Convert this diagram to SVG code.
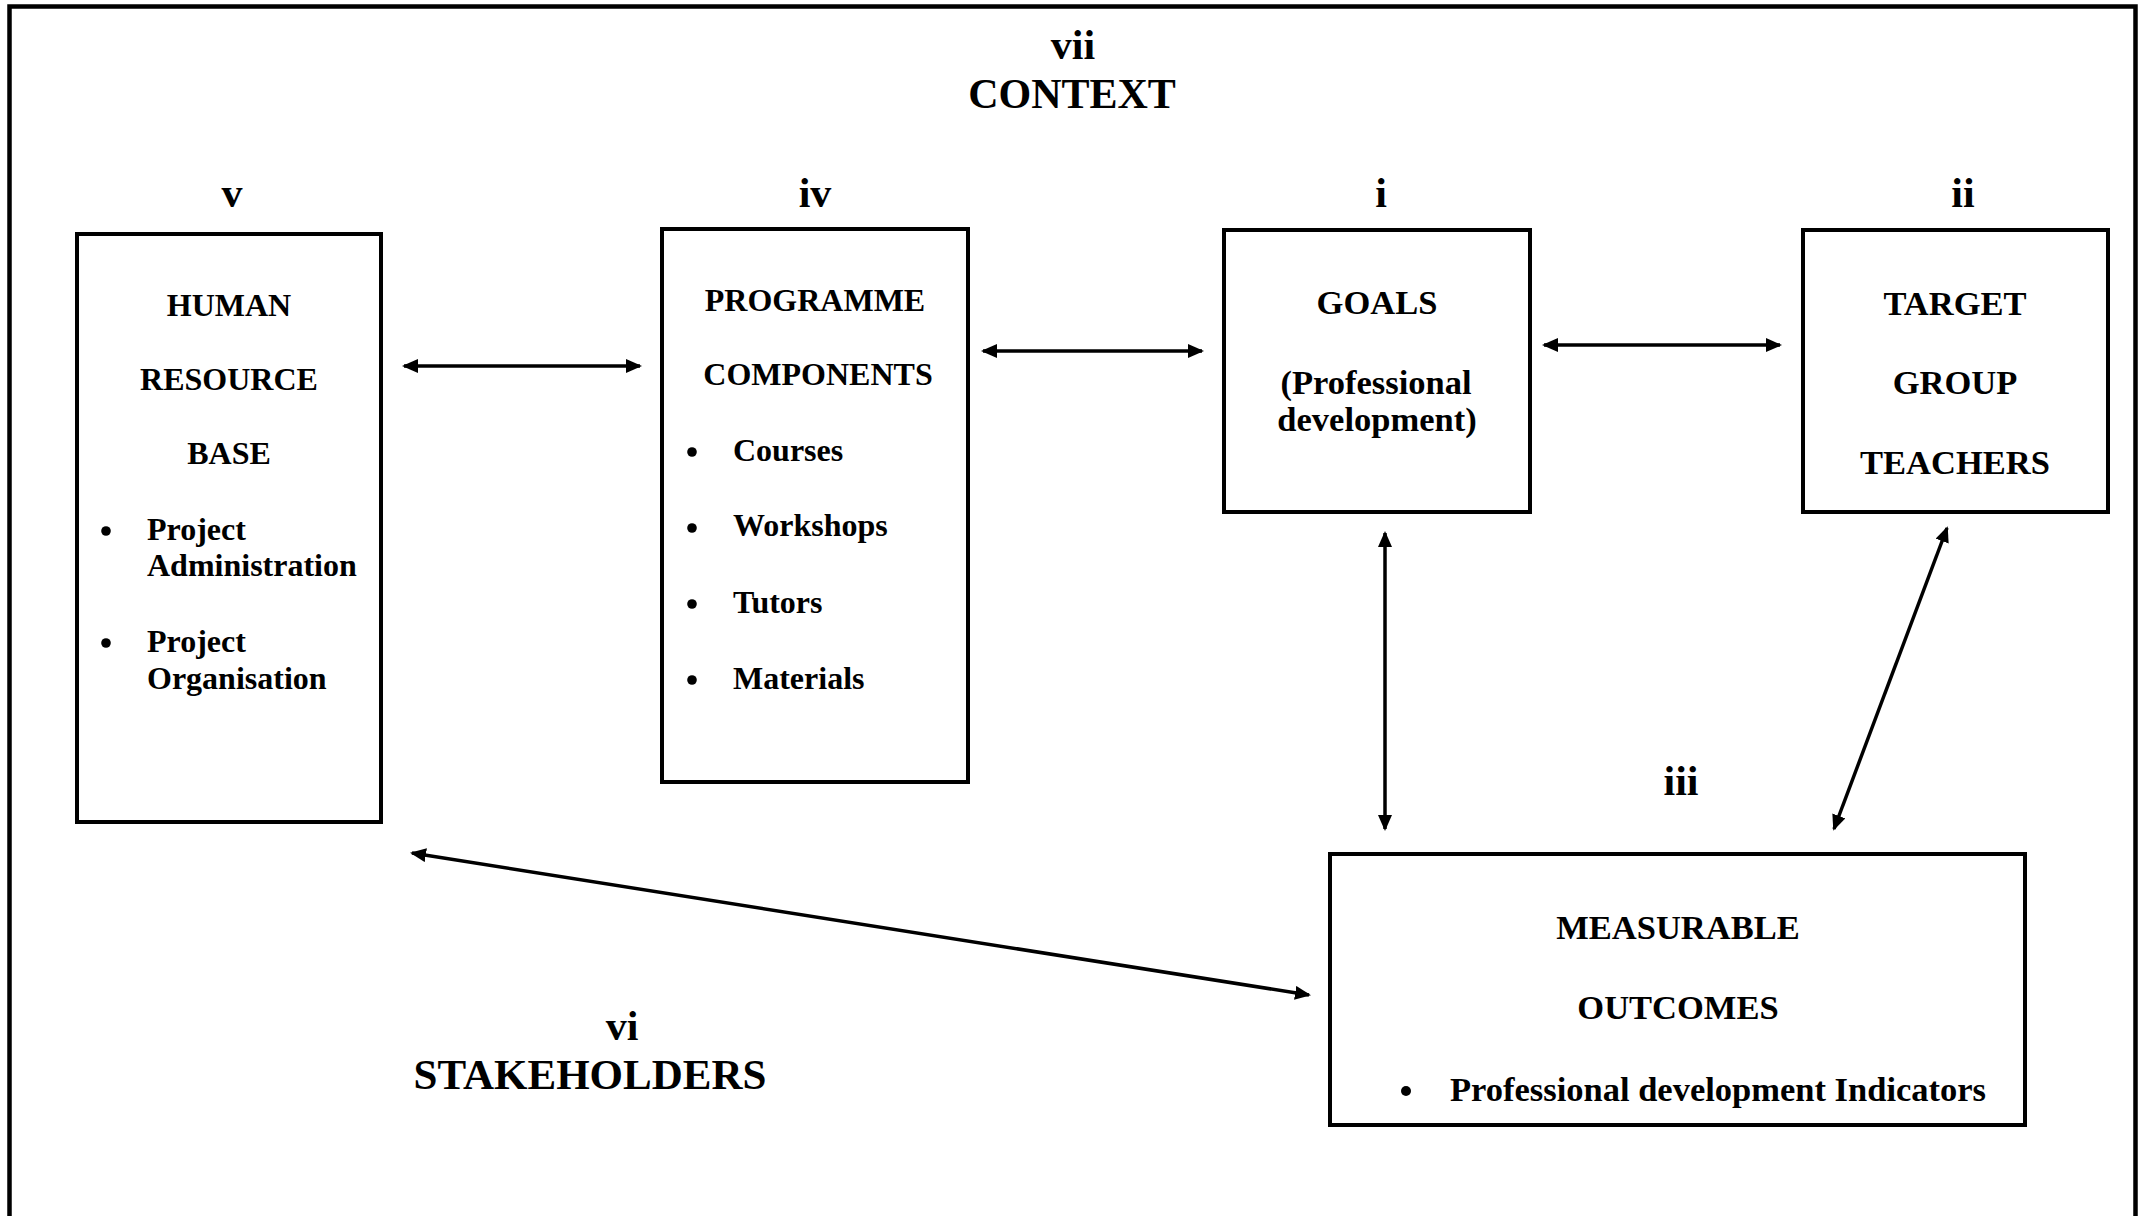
<svg xmlns="http://www.w3.org/2000/svg" width="2150" height="1216" viewBox="0 0 2150 1216">
<defs>
<style>
text{font-family:"Liberation Serif","Times New Roman",serif;font-weight:bold;fill:#000}
.lbl{font-size:42px;text-anchor:middle}
.big{font-size:43px;text-anchor:middle}
.t32{font-size:32px}
.t34{font-size:34.5px}
.c{text-anchor:middle}
.box{fill:#fff;stroke:#000;stroke-width:4}
.dot{fill:#000}
.con{fill:none;stroke:#000;stroke-width:3.5;marker-start:url(#ah);marker-end:url(#ah)}
</style>
<marker id="ah" viewBox="0 0 16 14" refX="14" refY="7" markerWidth="16" markerHeight="14" markerUnits="userSpaceOnUse" orient="auto-start-reverse">
<path d="M0,0 L16,7 L0,14 z" fill="#000"/>
</marker>
</defs>
<rect width="2150" height="1216" fill="#fff"/>
<path d="M9.5,1216 V6.5 H2135.5 V1216" fill="none" stroke="#000" stroke-width="4.5"/>

<g id="context">
<text class="lbl" x="1073" y="59">vii</text>
<text class="lbl" x="1072" y="108">CONTEXT</text>
</g>
<g id="stakeholders">
<text class="lbl" x="622" y="1040">vi</text>
<text class="big" x="590" y="1089">STAKEHOLDERS</text>
</g>

<g id="node-v">
<text class="lbl" x="232" y="207">v</text>
<rect class="box" x="77" y="234" width="304" height="588"/>
<text class="t32 c" x="229" y="316">HUMAN</text>
<text class="t32 c" x="229" y="390">RESOURCE</text>
<text class="t32 c" x="229" y="464">BASE</text>
<circle class="dot" cx="106" cy="531" r="4.8"/>
<text class="t32" x="147" y="540">Project</text>
<text class="t32" x="147" y="576">Administration</text>
<circle class="dot" cx="106" cy="643" r="4.8"/>
<text class="t32" x="147" y="652">Project</text>
<text class="t32" x="147" y="689">Organisation</text>
</g>

<g id="node-iv">
<text class="lbl" x="815" y="207">iv</text>
<rect class="box" x="662" y="229" width="306" height="553"/>
<text class="t32 c" x="815" y="311">PROGRAMME</text>
<text class="t32 c" x="818" y="385">COMPONENTS</text>
<circle class="dot" cx="692" cy="452" r="4.8"/>
<text class="t32" x="733" y="461">Courses</text>
<circle class="dot" cx="692" cy="528" r="4.8"/>
<text class="t32" x="733" y="536">Workshops</text>
<circle class="dot" cx="692" cy="604" r="4.8"/>
<text class="t32" x="733" y="613">Tutors</text>
<circle class="dot" cx="692" cy="680" r="4.8"/>
<text class="t32" x="733" y="689">Materials</text>
</g>

<g id="node-i">
<text class="lbl" x="1381" y="207">i</text>
<rect class="box" x="1224" y="230" width="306" height="282"/>
<text class="t34 c" x="1377" y="314">GOALS</text>
<text class="t34 c" x="1376" y="394">(Professional</text>
<text class="t34 c" x="1377" y="431">development)</text>
</g>

<g id="node-ii">
<text class="lbl" x="1963" y="207">ii</text>
<rect class="box" x="1803" y="230" width="305" height="282"/>
<text class="t34 c" x="1955" y="315">TARGET</text>
<text class="t34 c" x="1955" y="394">GROUP</text>
<text class="t34 c" x="1955" y="474">TEACHERS</text>
</g>

<g id="node-iii">
<text class="lbl" x="1681" y="795">iii</text>
<rect class="box" x="1330" y="854" width="695" height="271"/>
<text class="t34 c" x="1678" y="939">MEASURABLE</text>
<text class="t34 c" x="1678" y="1019">OUTCOMES</text>
<circle class="dot" cx="1406" cy="1091" r="5"/>
<text class="t34" x="1450" y="1101">Professional development Indicators</text>
</g>

<g id="connectors">
<line class="con" x1="404" y1="366" x2="640" y2="366"/>
<line class="con" x1="983" y1="351" x2="1202" y2="351"/>
<line class="con" x1="1544" y1="345" x2="1780" y2="345"/>
<line class="con" x1="1385" y1="533" x2="1385" y2="829"/>
<line class="con" x1="1947" y1="528" x2="1834" y2="829"/>
<line class="con" x1="412" y1="853" x2="1309" y2="995"/>
</g>
</svg>
